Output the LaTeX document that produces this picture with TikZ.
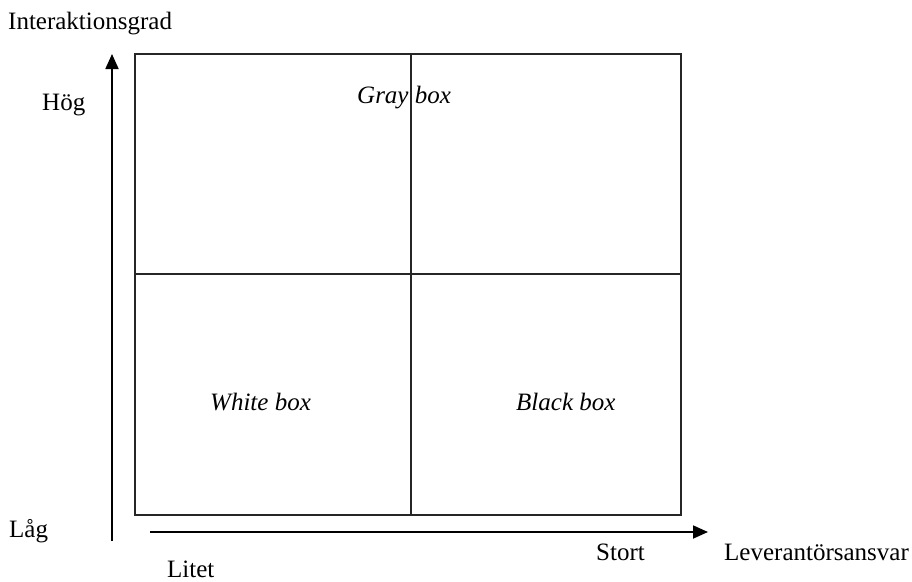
\documentclass[tikz,border=0pt]{standalone}
\usepackage{fontspec}
\setmainfont{Liberation Serif}
\usetikzlibrary{arrows.meta}
\begin{document}
\begin{tikzpicture}[x=1pt,y=-1pt,
  lbl/.style={anchor=base west,inner sep=0pt,font=\fontsize{25}{29}\selectfont},
  ilbl/.style={lbl,font=\fontsize{25}{29}\selectfont\itshape},
  frame/.style={line width=1.5pt,draw=black!85},
  axis/.style={line width=1.8pt,-{Triangle[length=15pt,width=13pt]}}]
\useasboundingbox (0,0) rectangle (912,581);
% quadrant grid
\draw[frame] (135,54) rectangle (681,515);
\draw[frame] (411,54) -- (411,515);
\draw[frame] (135,274) -- (681,274);
% axes
\coordinate (vstart) at (112,541);
\coordinate (vend) at (112,54);
\coordinate (hstart) at (150,532);
\coordinate (hend) at (708,532);
\draw[axis] (vstart) -- (vend);
\draw[axis] (hstart) -- (hend);
% labels
\node[lbl] (ig) at (8,29) {Interaktionsgrad};
\node[lbl] (hog) at (42,110) {Hög};
\node[lbl] (lag) at (9,537) {Låg};
\node[lbl] (litet) at (167,577) {Litet};
\node[lbl] (stort) at (596,560) {Stort};
\node[lbl] (la) at (724,560) {Leverantörsansvar};
\node[ilbl] (gray) at (357,103) {Gray box};
\node[ilbl] (white) at (210,410) {White box};
\node[ilbl] (black) at (516,410) {Black box};
\end{tikzpicture}
\end{document}
